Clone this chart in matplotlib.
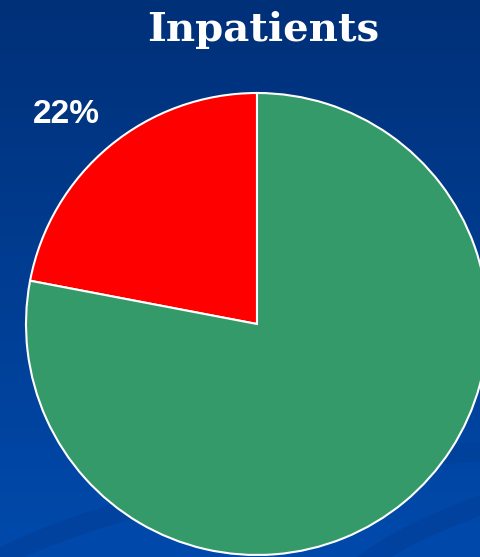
import numpy as np
import matplotlib
matplotlib.use("Agg")
import matplotlib.pyplot as plt
from matplotlib.patches import Ellipse

labels = ["22%", ""]
values = [22, 78]
colors = ["#FF0000", "#359A69"]
title = "Inpatients"

W, H = 481, 557
fig = plt.figure(figsize=(W / 100, H / 100), dpi=100)
ax = fig.add_axes([0, 0, 1, 1])
ax.set_xlim(0, W)
ax.set_ylim(0, H)
ax.axis("off")

# background gradient
top = np.array([0x00, 0x30, 0x78]) / 255
bot = np.array([0x00, 0x4A, 0xAC]) / 255
t = np.linspace(0, 1, 256)[:, None]
grad = top[None, :] * (1 - t) + bot[None, :] * t
img = np.repeat(grad[:, None, :], 2, axis=1)
ax.imshow(img, extent=(0, W, 0, H), aspect="auto", zorder=0, origin="upper")

# subtle swooshes at bottom
for (cx, cy, w, h, lw) in [(420, -30, 1000, 260, 14), (760, -40, 900, 300, 14)]:
    ax.add_patch(Ellipse((cx, cy), w, h, angle=6, facecolor="none",
                         edgecolor="#00409A", lw=lw, alpha=0.7, zorder=1))

wedges, _ = ax.pie(values, colors=colors, startangle=90, counterclock=True,
                   center=(257, H - 324), radius=231,
                   wedgeprops=dict(edgecolor="white", linewidth=1.5), frame=True)
for w in wedges:
    w.set_zorder(2)
ax.set_xlim(0, W)
ax.set_ylim(0, H)
ax.axis("off")

ax.text(66, H - 114, labels[0], color="white", fontsize=24, fontweight="bold",
        family="Liberation Sans", ha="center", va="center", zorder=3)
ax.text(263, H - 41, title, color="white", fontsize=29, fontweight="bold",
        family="DejaVu Serif", ha="center", va="baseline", zorder=3)

fig.savefig("out.png", dpi=100)
